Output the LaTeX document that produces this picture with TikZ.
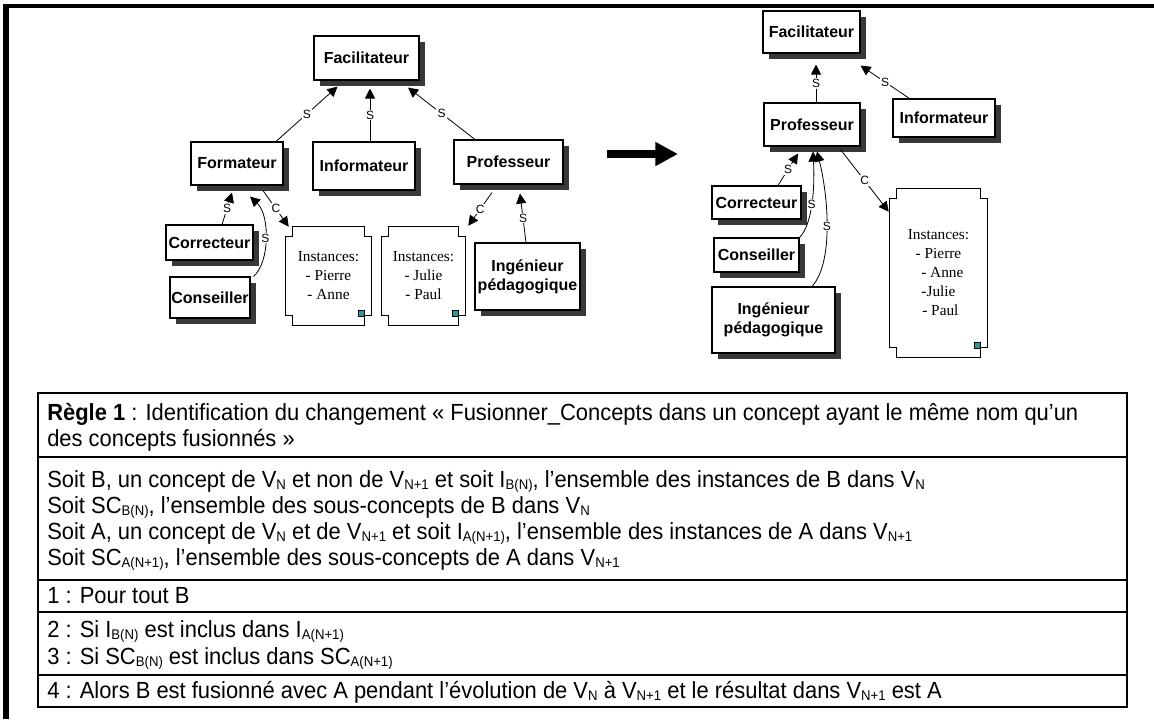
\documentclass[tikz,border=0pt]{standalone}
\usepackage{fontspec}
\setmainfont{Liberation Sans}
\newfontfamily\rulefont[FakeStretch=0.94]{Liberation Sans}
\newfontfamily\instfont{Liberation Serif}
\usetikzlibrary{arrows.meta,shadows,backgrounds,calc}

% small lowered index used in the rule table
\newcommand\subsc[1]{\raisebox{-0.2ex}{\fontsize{10.5}{11}\selectfont #1}}

\begin{document}
\begin{tikzpicture}[x=0.75pt,y=-0.75pt,
  concept/.style={draw, fill=white, line width=0.8pt, inner sep=0pt, align=center,
    font=\fontsize{12}{15}\selectfont\bfseries,
    drop shadow={shadow xshift=4.5pt, shadow yshift=-4.5pt, fill=black!78, opacity=1}},
  instnode/.style={inner sep=0pt, align=center, font=\instfont\fontsize{11.5}{14.25}\selectfont},
  notch/.style={insert path={([xshift=5pt]#1.north west) -- ([xshift=-5pt]#1.north east)
      -- ++(0pt,-7pt) -- ++(5pt,0pt) -- ([yshift=7pt]#1.south east) -- ++(-5pt,0pt)
      -- ++(0pt,-7pt) -- ([xshift=5pt]#1.south west) -- ++(0pt,7pt) -- ++(-5pt,0pt)
      -- ([yshift=-7pt]#1.north west) -- ++(5pt,0pt) -- cycle}},
  instshadow/.style={fill=black!78, shift={(4.5pt,-4.5pt)}},
  instframe/.style={draw, fill=white, line width=0.8pt},
  marker/.style={draw=black, line width=0.5pt, fill={rgb,255:red,45;green,150;blue,150}},
  link/.style={line width=0.6pt, -{Triangle[length=7.5pt,width=7.5pt]}},
  lab/.style={font=\fontsize{9}{9}\selectfont, fill=white, inner sep=0.8pt},
  rtext/.style={anchor=base west, inner sep=0pt, font=\rulefont\fontsize{17.5}{20}\selectfont},
  tabrule/.style={line width=1.5pt}
]
\useasboundingbox (0,0) rectangle (1154,719);

% outer frame: heavy top and left edges
\fill (3,4) rectangle (1154,8);
\fill (3,4) rectangle (9,719);

% ---------- version N ----------
\node[concept, minimum width=78.75pt, minimum height=33pt] (fac1) at (366.5,58) {Facilitateur};
\node[concept, minimum width=69pt, minimum height=32.25pt] (form) at (237,163.5) {Formateur};
\node[concept, minimum width=76.5pt, minimum height=36pt] (info1) at (364,166) {Informateur};
\node[concept, minimum width=81.75pt, minimum height=33pt] (prof1) at (508.5,162) {Professeur};
\node[concept, minimum width=65.25pt, minimum height=26.25pt] (corr1) at (209.5,242.5) {Correcteur};
\node[concept, minimum width=60pt, minimum height=30.75pt] (cons1) at (210,297.5) {Conseiller};
\node[concept, minimum width=78.75pt, minimum height=50.25pt] (ing1) at (527.5,276.5) {Ingénieur\\[-1pt]pédagogique};
\node[instnode, minimum width=63.75pt, minimum height=73.5pt] (inst1) at (328.5,276) {Instances:\\- Pierre\\- Anne};
\node[instnode, minimum width=62.25pt, minimum height=73.5pt] (inst2) at (423.5,276) {Instances:\\- Julie\\- Paul};

% ---------- version N+1 ----------
\node[concept, minimum width=72.75pt, minimum height=31.5pt] (fac2) at (811.5,32) {Facilitateur};
\node[concept, minimum width=72pt, minimum height=32.25pt] (prof2) at (812,124.5) {Professeur};
\node[concept, minimum width=76.5pt, minimum height=28.5pt] (info2) at (944,118) {Informateur};
\node[concept, minimum width=66.75pt, minimum height=24.75pt] (corr2) at (756.5,202.5) {Correcteur};
\node[concept, minimum width=63.75pt, minimum height=25.5pt] (cons2) at (756.5,255) {Conseiller};
\node[concept, minimum width=92.25pt, minimum height=49.5pt] (ing2) at (773.5,320) {Ingénieur\\[-1pt]pédagogique};
\node[instnode, minimum width=72.75pt, minimum height=126pt] (inst3) at (938.5,273) {Instances:\\- Pierre\\\ \ - Anne\\-Julie\\\ - Paul};

% instance cards with notched corners
\begin{pgfonlayer}{background}
  \foreach \c in {inst1,inst2,inst3} {
    \path[instshadow, notch=\c];
    \path[instframe, notch=\c];
  }
\end{pgfonlayer}
\foreach \c in {inst1,inst2,inst3}
  \draw[marker] ([xshift=-5pt,yshift=7pt]\c.south east) rectangle ++(-4.5pt,4.5pt);

% ---------- links, version N ----------
\draw[link] ([shift={(39,0)}]form.north) -- node[lab]{S} ([shift={(-29,6)}]fac1.south);
\draw[link] ([shift={(6,0)}]info1.north) -- node[lab]{S} ([shift={(3.5,8)}]fac1.south);
\draw[link] ([shift={(-33.5,0)}]prof1.north) -- node[lab]{S} ([shift={(41.5,7)}]fac1.south);
\draw[link] ([shift={(12.5,0)}]corr1.north) -- node[lab]{S} ([shift={(-5,7)}]form.south);
\draw[link] ([shift={(3,0)}]cons1.north east) .. controls (270,262) and (270,215) .. node[lab]{S} ([shift={(13,11)}]form.south);
\draw[link] ([shift={(26,5)}]form.south) -- node[lab]{C} ([shift={(3,0)}]inst1.north west);
\draw[link] ([shift={(-16.5,8)}]prof1.south) -- node[lab]{C} ([shift={(3,-1)}]inst2.north east);
\draw[link] ([shift={(-1.5,0)}]ing1.north) -- node[lab]{S} ([shift={(11.5,9)}]prof1.south);

% ---------- links, version N+1 ----------
\draw[link] ([shift={(4,0)}]prof2.north) -- node[lab]{S} ([shift={(4.5,11)}]fac2.south);
\draw[link] ([shift={(17,0)}]info2.north west) -- node[lab]{S} ([shift={(0,12)}]fac2.south east);
\draw[link] ([shift={(21.5,0)}]corr2.north) -- node[lab]{S} ([shift={(-14,7)}]prof2.south);
\draw[link] (cons2.north east) .. controls (812,225) and (815,190) .. node[lab]{S} ([shift={(1,5)}]prof2.south);
\draw[link] ([shift={(38.5,0)}]ing2.north) .. controls (834,262) and (828,195) .. node[lab]{S} ([shift={(5,5)}]prof2.south);
\draw[link] ([shift={(-20,3)}]prof2.south east) -- node[lab]{C} ([shift={(-1,23)}]inst3.north west);

% evolution arrow
\coordinate (evoS) at (607,154);
\coordinate (evoE) at (678,154);
\draw[line width=6pt, -{Triangle[length=17pt,width=17pt]}] (evoS) -- (evoE);

% ---------- rule table ----------
\draw[tabrule] (38,393) rectangle (1127,707);
\foreach \yy in {457,580,612,675}
  \draw[tabrule] (38,\yy) -- (1127,\yy);

\node[rtext] (h1) at (47,420) {\textbf{Règle 1} : Identification du changement «~Fusionner\_Concepts dans un concept ayant le même nom qu’un};
\node[rtext] (h2) at (47,446) {des concepts fusionnés~»};
\node[rtext] (s1) at (47,487) {Soit B, un concept de V\subsc{N} et non de V\subsc{N+1} et soit I\subsc{B(N)}, l’ensemble des instances de B dans V\subsc{N}};
\node[rtext] (s2) at (47,513) {Soit SC\subsc{B(N)}, l’ensemble des sous-concepts de B dans V\subsc{N}};
\node[rtext] (s3) at (47,539) {Soit A, un concept de V\subsc{N} et de V\subsc{N+1} et soit I\subsc{A(N+1)}, l’ensemble des instances de A dans V\subsc{N+1}};
\node[rtext] (s4) at (47,565) {Soit SC\subsc{A(N+1)}, l’ensemble des sous-concepts de A dans V\subsc{N+1}};
\node[rtext] (r1) at (47,603) {1 : Pour tout B};
\node[rtext] (r2) at (47,637) {2 : Si I\subsc{B(N)} est inclus dans I\subsc{A(N+1)}};
\node[rtext] (r3) at (47,664) {3 : Si SC\subsc{B(N)} est inclus dans SC\subsc{A(N+1)}};
\node[rtext] (r4) at (47,698) {4 : Alors B est fusionné avec A pendant l’évolution de V\subsc{N} à V\subsc{N+1} et le résultat dans V\subsc{N+1} est A};
\end{tikzpicture}
\end{document}
